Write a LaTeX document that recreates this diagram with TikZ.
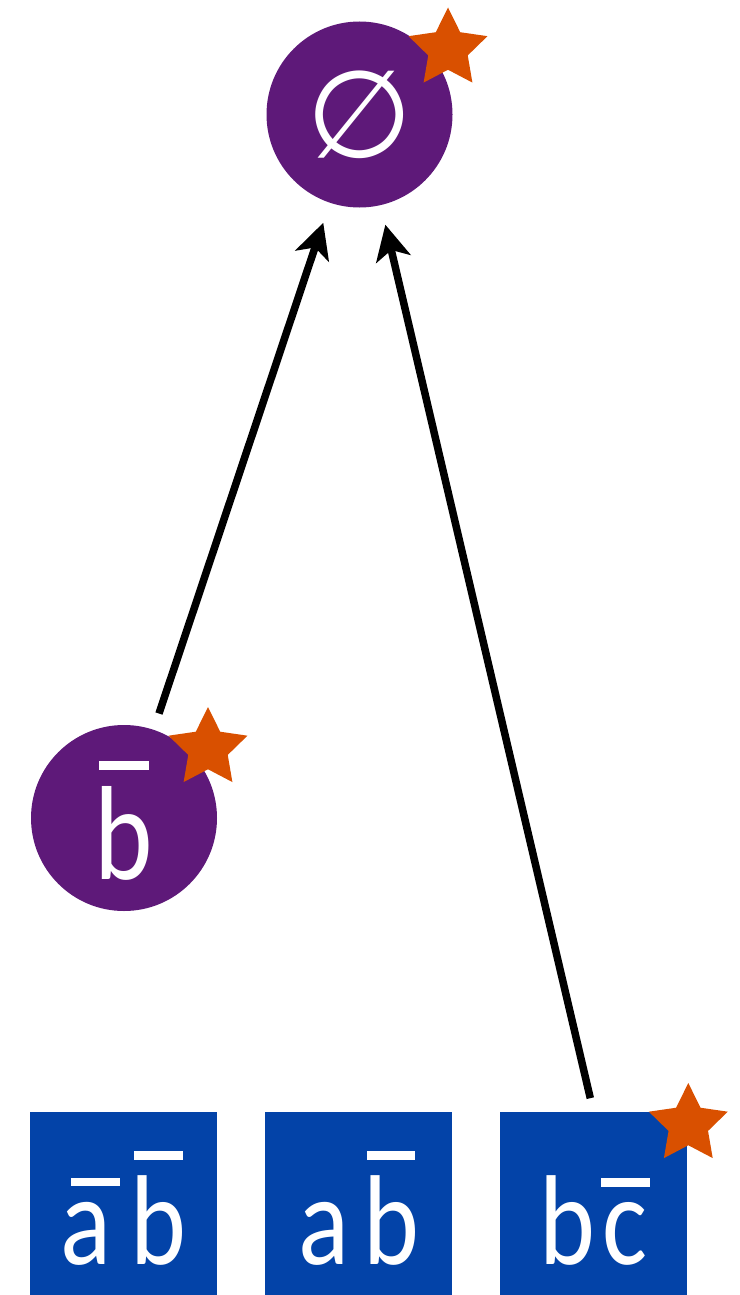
\documentclass[tikz,border=0pt]{standalone}
\usepackage{fontspec}
\setmainfont{Carlito}[FakeStretch=0.83]
\newfontfamily\esfont{DejaVu Sans}
\usetikzlibrary{arrows.meta}
\definecolor{nodepurple}{RGB}{94,25,121}
\definecolor{boxblue}{RGB}{3,67,168}
\definecolor{starorange}{RGB}{217,80,0}
\newcommand\ovl[1]{\setbox0=\hbox{#1}\rlap{\hbox to\wd0{\hss\raisebox{\dimexpr\ht0+0.12em\relax}{\rule{0.38em}{0.07em}}\hss}}\box0}
\tikzset{
  boxfont/.style={font=\fontsize{128}{130}\selectfont},
  circfont/.style={font=\fontsize{134}{136}\selectfont},
  circnode/.style={circle, fill=nodepurple, minimum size=186pt, inner sep=0pt, text=white, circfont, text height=122pt, text depth=0pt},
  topnode/.style={circle, fill=nodepurple, minimum size=186pt, inner sep=0pt, text=white, font=\esfont\fontsize{122}{124}\selectfont},
  boxnode/.style={rectangle, fill=boxblue, minimum width=187pt, minimum height=183pt, inner sep=0pt, text=white, boxfont, text height=121pt, text depth=0pt},
  conn/.style={line width=7.5pt, draw=black, -{Stealth[length=35pt,width=35pt,inset=9pt]}},
  starpic/.pic={\fill[starorange] (-90:41.5) -- (-54:20.75) -- (-18:41.5) -- (18:20.75) -- (54:41.5) -- (90:20.75) -- (126:41.5) -- (162:20.75) -- (198:41.5) -- (234:20.75) -- cycle;}
}
\begin{document}
\begin{tikzpicture}[x=1pt,y=-1pt]
\useasboundingbox (0,0) rectangle (739,1295);
\node[topnode] (top) at (359.5,114.5) {∅};
\node[circnode] (bc) at (124,818) {\ovl{b}};
\node[boxnode] (box1) at (123.5,1203.5) {\ovl{a\kern19pt}\ovl{b}};
\node[boxnode] (box2) at (358.5,1203.5) {a\kern14pt\ovl{b}};
\node[boxnode] (box3) at (593.5,1203.5) {b\kern8pt\ovl{c}};
\pic at (448,49) {starpic};
\pic at (208,748.5) {starpic};
\pic at (688.3,1124.5) {starpic};
\draw[conn, shorten <=17pt, shorten >=21pt] (bc) -- (top);
\draw[conn, shorten <=14pt, shorten >=20pt] (box3.north) -- (top);
\end{tikzpicture}
\end{document}
